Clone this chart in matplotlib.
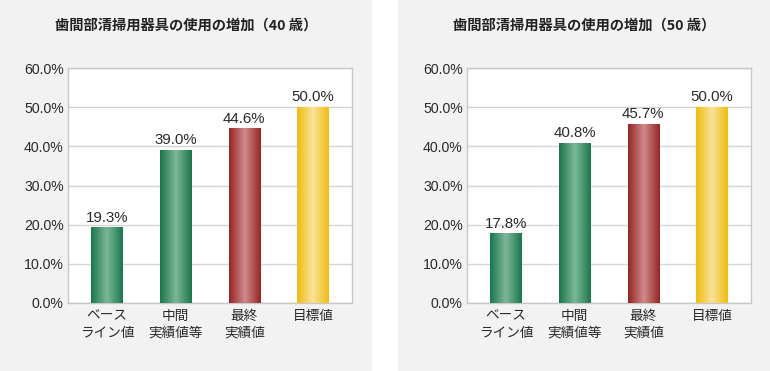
import matplotlib
matplotlib.use("Agg")
import matplotlib.pyplot as plt
import numpy as np
from matplotlib.patches import Rectangle
from matplotlib.colors import LinearSegmentedColormap

plt.rcParams['font.family'] = ['Liberation Sans', 'Noto Sans CJK JP', 'DejaVu Sans']

categories = ["ベース\nライン値", "中間\n実績値等", "最終\n実績値", "目標値"]
values_40 = [19.3, 39.0, 44.6, 50.0]
values_50 = [17.8, 40.8, 45.7, 50.0]
titles = ["歯間部清掃用器具の使用の増加（40 歳）", "歯間部清掃用器具の使用の増加（50 歳）"]
yticks = [0, 10, 20, 30, 40, 50, 60]

bar_grads = [
    ("#1b774a", "#7db79a"),
    ("#1b774a", "#7db79a"),
    ("#962424", "#cf8a8a"),
    ("#f0bc10", "#f9e29a"),
]

W, H = 770, 371
fig = plt.figure(figsize=(W / 100, H / 100), dpi=100)
fig.patch.set_facecolor("white")

for x0, x1 in [(0, 372), (398, 770)]:
    fig.patches.append(Rectangle((x0 / W, 0), (x1 - x0) / W, 1, transform=fig.transFigure,
                                 facecolor="#f2f2f2", edgecolor="none", zorder=-10))

panels = [
    (68, values_40, titles[0], 186),
    (467, values_50, titles[1], 584),
]

cjk = ['Noto Sans CJK JP', 'DejaVu Sans']

for left, vals, title, tx in panels:
    ax = fig.add_axes([left / W, (H - 303) / H, 284 / W, 235 / H])
    ax.set_facecolor("white")
    x = np.arange(len(categories))
    bars = ax.bar(x, vals, width=0.46, color="none", edgecolor="none", zorder=3)
    for b, (dark, light), v in zip(bars, bar_grads, vals):
        cmap = LinearSegmentedColormap.from_list("g", [dark, light, dark])
        grad = np.linspace(0, 1, 256).reshape(1, -1)
        ax.imshow(grad, cmap=cmap, aspect="auto", zorder=3,
                  extent=(b.get_x(), b.get_x() + b.get_width(), 0, b.get_height()))
        ax.annotate(f"{v:.1f}%", (b.get_x() + b.get_width() / 2, b.get_height()),
                    xytext=(0, 2), textcoords="offset points", ha="center", va="bottom",
                    fontsize=10.8, color="#2a2a2a", zorder=4)
    ax.set_xlim(-0.57, 3.57)
    ax.set_ylim(0, 60)
    ax.set_yticks(yticks)
    ax.set_yticklabels([f"{t:.1f}%" for t in yticks], fontsize=10.2, color="#2a2a2a")
    ax.set_xticks(x)
    ax.set_xticklabels(categories, fontsize=9.8, color="#2a2a2a", linespacing=1.3,
                       family=cjk)
    ax.tick_params(length=0, pad=3)
    ax.tick_params(axis="x", pad=4)
    ax.grid(axis="y", color="#d5d5d5", linewidth=1, zorder=0)
    ax.set_axisbelow(True)
    for s in ax.spines.values():
        s.set_color("#c8c8c8")
        s.set_linewidth(1)
    fig.text(tx / W, 1 - 26 / H, title, ha="center", va="center", fontsize=10.3,
             fontweight="bold", color="#222222", family=cjk)

fig.savefig("out.png", dpi=100, facecolor="white")
